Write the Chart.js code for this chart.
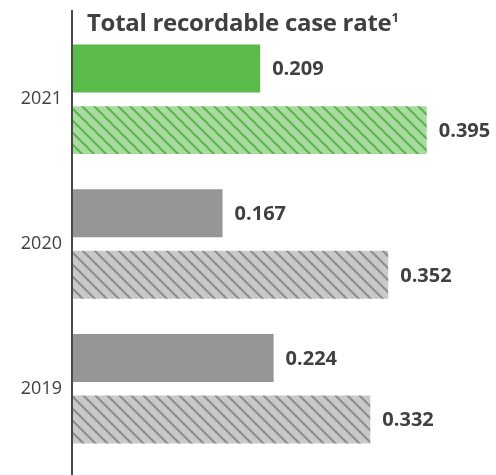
<!DOCTYPE html>
<html>
<head>
<meta charset="utf-8">
<script src="https://cdn.jsdelivr.net/npm/chart.js@4.4.1/dist/chart.umd.min.js"></script>
<style>
  body { margin: 0; background: #fff; }
  #wrap { position: relative; width: 496px; height: 475px; }
  #title {
    position: absolute; left: 87px; top: 5px;
    font: bold 24px "Open Sans", sans-serif; color: #404040;
    letter-spacing: -0.3px; white-space: nowrap;
  }
  #title sup { font-size: 13px; vertical-align: 9px; }
</style>
</head>
<body>
<div id="wrap">
  <canvas id="myChart" width="496" height="475"></canvas>
  <div id="title">Total recordable case rate<sup>1</sup></div>
</div>
<script>
const years = ['2021', '2020', '2019'];
const rates = [0.209, 0.167, 0.224];
const hatchedRates = [0.395, 0.352, 0.332];

const textColor = '#404040';

// diagonal stripes "\" for the hatched bars
function stripes(bg, line) {
  const c = document.createElement('canvas');
  c.width = 12; c.height = 12;
  const g = c.getContext('2d');
  g.fillStyle = bg;
  g.fillRect(0, 0, 12, 12);
  g.strokeStyle = line;
  g.lineWidth = 2;
  g.beginPath();
  g.moveTo(-2, -2); g.lineTo(14, 14);
  g.moveTo(-14, -2); g.lineTo(2, 14);
  g.moveTo(10, -2); g.lineTo(26, 14);
  g.stroke();
  return g.createPattern(c, 'repeat');
}

const greenHatch = stripes('#a9dba1', '#58b548');
const greyHatch = stripes('#c9c9c9', '#8c8c8c');

// vertical axis line, longer than the plot area
const axisLine = {
  id: 'axisLine',
  afterDraw(chart) {
    const ctx = chart.ctx;
    const x = chart.scales.x.getPixelForValue(0) - 1;
    ctx.save();
    ctx.strokeStyle = '#4a4a4a';
    ctx.lineWidth = 2;
    ctx.beginPath();
    ctx.moveTo(x, 10);
    ctx.lineTo(x, chart.height);
    ctx.stroke();
    ctx.restore();
  }
};

// value labels at the end of each bar
const valueLabels = {
  id: 'valueLabels',
  afterDatasetsDraw(chart) {
    const ctx = chart.ctx;
    ctx.save();
    ctx.font = 'bold 20px "Open Sans", sans-serif';
    ctx.fillStyle = textColor;
    ctx.textBaseline = 'middle';
    chart.data.datasets.forEach((ds, i) => {
      chart.getDatasetMeta(i).data.forEach((bar, j) => {
        ctx.fillText(ds.data[j].toFixed(3), bar.x + 12, bar.y + 1);
      });
    });
    ctx.restore();
  }
};

const ctx = document.getElementById('myChart').getContext('2d');
new Chart(ctx, {
  type: 'bar',
  data: {
    labels: years,
    datasets: [{
      label: 'Rate',
      data: rates,
      backgroundColor: ['#5aba4a', '#969696', '#969696'],
      borderWidth: 0
    }, {
      label: 'Hatched',
      data: hatchedRates,
      backgroundColor: [greenHatch, greyHatch, greyHatch],
      borderWidth: 0
    }]
  },
  options: {
    indexAxis: 'y',
    responsive: false,
    animation: false,
    categoryPercentage: 0.85,
    barPercentage: 0.78,
    layout: { padding: { top: 27, bottom: 7, right: 20, left: 0 } },
    plugins: {
      legend: { display: false },
      tooltip: { enabled: false }
    },
    scales: {
      x: { display: false, min: 0, max: 0.45 },
      y: {
        grid: { display: false },
        border: { display: false },
        ticks: {
          color: textColor,
          font: { family: '"Open Sans", sans-serif', size: 18 },
          padding: 3
        },
        afterFit(scale) { scale.width = 73; }
      }
    }
  },
  plugins: [axisLine, valueLabels]
});
</script>
</body>
</html>
